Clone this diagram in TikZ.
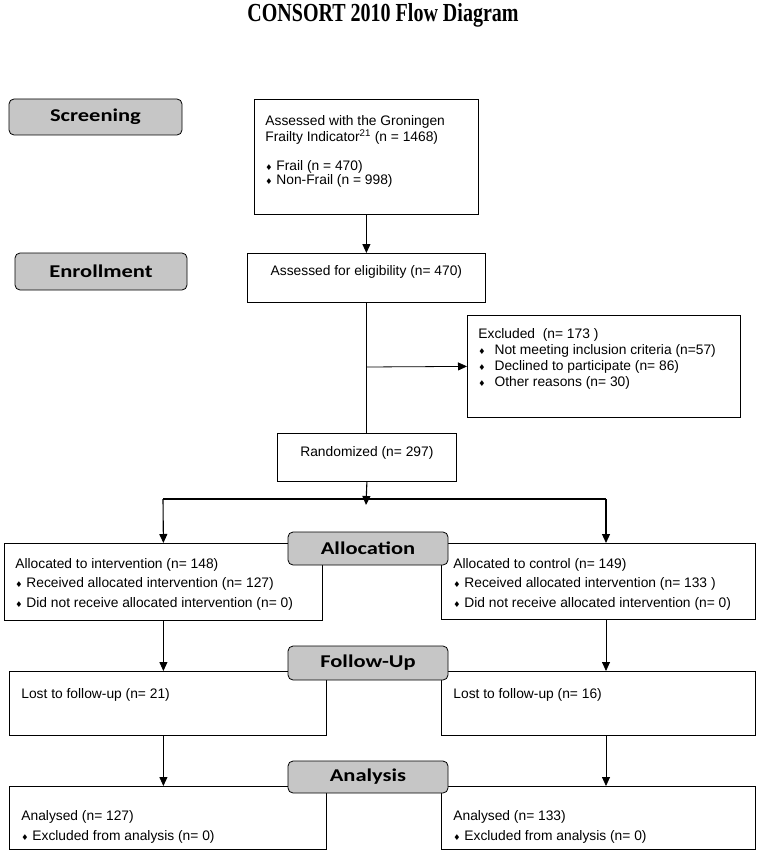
\documentclass[tikz,border=0pt]{standalone}
\usepackage{fontspec, graphicx}
\setmainfont{Liberation Sans}
\newfontfamily\stagefont{Carlito}
\newfontfamily\titlefont{Liberation Serif}
\newfontfamily\bulletfont{DejaVu Sans}
\usetikzlibrary{positioning, arrows.meta}
\tikzset{>={Stealth[length=9pt, width=8pt, inset=0pt]}}
\newcommand{\bulletdia}{{\bulletfont\fontsize{8}{8}\selectfont ♦}}
\tikzset{
	stage/.style = {draw, rounded corners=5pt, fill=gray!45, minimum width=160pt, inner sep=0pt,
		font=\stagefont\bfseries\fontsize{18}{18}\selectfont},
	flowbox/.style = {draw, anchor=north west, inner sep=0pt},
	boxtext/.style = {anchor=north west, inner sep=0pt, align=left},
}

\begin{document}
\begin{tikzpicture}[x=1pt, y=-1pt, line width=0.8pt, font=\fontsize{13.8}{16}\selectfont]
	\useasboundingbox (0,0) rectangle (761,853);
	\node[font=\titlefont\bfseries\fontsize{26}{26}\selectfont] (title) at (383,15) {\scalebox{0.77}[1]{CONSORT 2010 Flow Diagram}};

	% screening and enrollment
	\node[flowbox, minimum width=224pt, minimum height=115pt] (gfi) at (254,99) {};
	\node[boxtext, font=\fontsize{13.8}{14.4}\selectfont] (gfitext) at ([xshift=11pt, yshift=-16pt]gfi.north west)
		{Assessed with the Groningen\\Frailty Indicator\textsuperscript{21} (n = 1468)\\[14.4pt]\bulletdia\ Frail (n = 470)\\\bulletdia\ Non-Frail (n = 998)};
	\node[flowbox, minimum width=238pt, minimum height=49pt] (elig) at (247,253) {};
	\node[anchor=center] (eligtext) at ([yshift=-19pt]elig.north) {Assessed for eligibility (n= 470)};
	\node[flowbox, minimum width=273pt, minimum height=102pt] (excl) at (467,315) {};
	\node[boxtext] (excltext) at ([xshift=11pt, yshift=-13pt]excl.north west)
		{Excluded\ \ (n= 173 )\\\bulletdia\hspace{9pt}Not meeting inclusion criteria (n=57)\\\bulletdia\hspace{9pt}Declined to participate (n= 86)\\\bulletdia\hspace{9pt}Other reasons (n= 30)};
	\node[flowbox, minimum width=179pt, minimum height=48pt] (rand) at (277,433) {};
	\node (randtext) at ([yshift=-20pt]rand.north) {Randomized (n= 297)};

	% the two arms
	\node[flowbox, minimum width=318pt, minimum height=77pt] (allocL) at (4,543) {};
	\node[boxtext, font=\fontsize{13.8}{19.3}\selectfont] (allocLtext) at ([xshift=11pt, yshift=-15pt]allocL.north west)
		{Allocated to intervention (n= 148)\\\bulletdia\ Received allocated intervention (n= 127)\\\bulletdia\ Did not receive allocated intervention (n= 0)};
	\node[flowbox, minimum width=314pt, minimum height=76pt] (allocR) at (441,543) {};
	\node[boxtext, font=\fontsize{13.8}{19.3}\selectfont] (allocRtext) at ([xshift=12pt, yshift=-15pt]allocR.north west)
		{Allocated to control (n= 149)\\\bulletdia\ Received allocated intervention (n= 133 )\\\bulletdia\ Did not receive allocated intervention (n= 0)};
	\node[flowbox, minimum width=317pt, minimum height=64pt] (lostL) at (9,671) {};
	\node[boxtext] (lostLtext) at ([xshift=12pt, yshift=-17pt]lostL.north west) {Lost to follow-up (n= 21)};
	\node[flowbox, minimum width=314pt, minimum height=64pt] (lostR) at (441,671) {};
	\node[boxtext] (lostRtext) at ([xshift=12pt, yshift=-17pt]lostR.north west) {Lost to follow-up (n= 16)};
	\node[flowbox, minimum width=317pt, minimum height=63pt] (anaL) at (9,786) {};
	\node[boxtext, font=\fontsize{13.8}{20}\selectfont] (anaLtext) at ([xshift=12pt, yshift=-24pt]anaL.north west)
		{Analysed (n= 127)\\\bulletdia\ Excluded from analysis (n= 0)};
	\node[flowbox, minimum width=314pt, minimum height=63pt] (anaR) at (441,786) {};
	\node[boxtext, font=\fontsize{13.8}{20}\selectfont] (anaRtext) at ([xshift=12pt, yshift=-24pt]anaR.north west)
		{Analysed (n= 133)\\\bulletdia\ Excluded from analysis (n= 0)};

	% stage labels
	\node[stage, minimum width=173pt, minimum height=36pt] (screening) at (95.5,117) {\scalebox{1.25}[1]{Screening}};
	\node[stage, minimum width=172pt, minimum height=37pt] (enrollment) at (101,271.5) {\scalebox{1.25}[1]{Enrollment}};
	\node[stage, minimum height=33pt] (allocation) at (368,548.5) {\scalebox{1.25}[1]{Allocation}};
	\node[stage, minimum height=34pt] (followup) at (368,663) {\scalebox{1.25}[1]{Follow-Up}};
	\node[stage, minimum height=32pt] (analysis) at (368,777) {\scalebox{1.25}[1]{Analysis}};

	% connectors
	\coordinate (split) at (366,367);
	\coordinate (branch) at (366,499);
	\coordinate (branchL) at (163,499);
	\coordinate (branchR) at (606,499);
	\draw[->, line width=1.1pt] (gfi.south) -- (elig.north);
	\draw[line width=1.1pt] (elig.south) -- (elig.south |- rand.north);
	\draw[->] (split) -- (excl.west);
	\draw[->, line width=1.1pt] (rand.south) -- ([yshift=-6pt]branch);
	\draw[line width=1.1pt] (branchL) -- (branchR);
	\draw[->, line width=1.1pt] (branchL) -- (allocL.north);
	\draw[->, line width=1.1pt] (branchR) -- (branchR |- allocR.north);
	\draw[->] (allocL.south) -- (allocL.south |- lostL.north);
	\draw[->] (branchR |- allocR.south) -- (branchR |- lostR.north);
	\draw[->] (allocL.south |- lostL.south) -- (allocL.south |- anaL.north);
	\draw[->] (branchR |- lostR.south) -- (branchR |- anaR.north);
\end{tikzpicture}
\end{document}
